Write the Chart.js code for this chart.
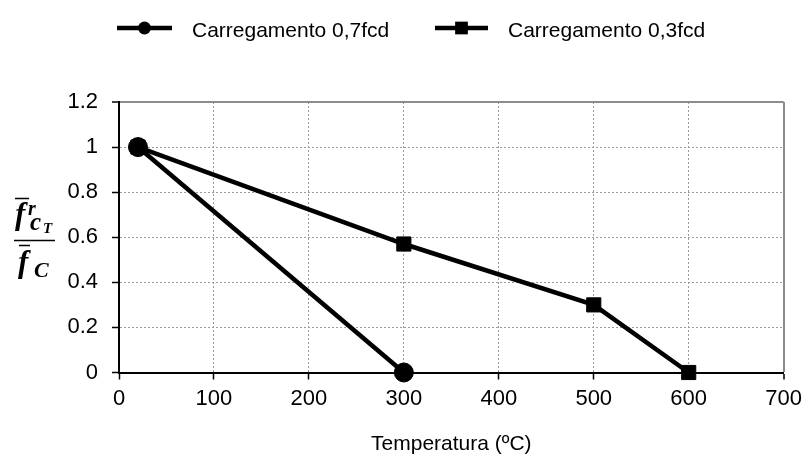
<!DOCTYPE html>
<html>
<head>
<meta charset="utf-8">
<script src="https://cdn.jsdelivr.net/npm/chart.js@4.4.0/dist/chart.umd.min.js"></script>
<style>
  html, body { margin: 0; padding: 0; background: #fff; }
  #wrap { width: 808px; height: 457px; }
</style>
</head>
<body>
<div id="wrap"><canvas id="grafico" width="808" height="457"></canvas></div>
<script>
// --- DADOS ---
const temps07 = [20, 300];
const vals07 = [1, 0];
const temps03 = [20, 300, 500, 600];
const vals03 = [1, 0.57, 0.3, 0];
const seriesLabels = ["Carregamento 0,7fcd", "Carregamento 0,3fcd"];
const xTicks = [0, 100, 200, 300, 400, 500, 600, 700];
const yTicks = [0, 0.2, 0.4, 0.6, 0.8, 1, 1.2];
const yTickLabels = ["0", "0.2", "0.4", "0.6", "0.8", "1", "1.2"];
const xTitle = "Temperatura (ºC)";

const SANS = "'Liberation Sans', Arial, sans-serif";
const SERIF = "'Liberation Serif', 'Times New Roman', serif";

// --- LEGENDA NO TOPO (linha + marcador) ---
const topLegend = {
  id: "topLegend",
  afterDraw(chart) {
    const ctx = chart.ctx;
    const items = [
      { x1: 117, x2: 172, text: 192 },
      { x1: 435, x2: 488, text: 508 },
    ];
    const y = 28;
    chart.data.datasets.forEach((ds, i) => {
      const it = items[i];
      ctx.save();
      ctx.strokeStyle = "#000";
      ctx.lineWidth = 4.5;
      ctx.beginPath();
      ctx.moveTo(it.x1, y);
      ctx.lineTo(it.x2, y);
      ctx.stroke();
      ctx.fillStyle = "#000";
      Chart.helpers.drawPoint(
        ctx,
        { pointStyle: ds.pointStyle, radius: ds.pointStyle === "rect" ? 9 : 6.5, rotation: 0, borderWidth: 0 },
        (it.x1 + it.x2) / 2,
        y
      );
      ctx.font = "21px " + SANS;
      ctx.textBaseline = "alphabetic";
      ctx.fillText(ds.label, it.text, 37);
      ctx.restore();
    });
  },
};

// --- TÍTULO DO EIXO Y (fração) ---
const yFraction = {
  id: "yFraction",
  afterDraw(chart) {
    const ctx = chart.ctx;
    ctx.save();
    ctx.fillStyle = "#000";
    ctx.strokeStyle = "#000";
    ctx.textBaseline = "alphabetic";
    // numerador
    ctx.font = "bold italic 31px " + SERIF;
    ctx.fillText("f", 15, 224);
    ctx.font = "bold italic 20px " + SERIF;
    ctx.fillText("r", 28, 215);
    ctx.font = "bold italic 25px " + SERIF;
    ctx.fillText("c", 30, 230);
    ctx.font = "bold italic 15px " + SERIF;
    ctx.fillText("T", 43, 233);
    // traços
    ctx.lineWidth = 1.6;
    ctx.beginPath();
    ctx.moveTo(15, 198.5); ctx.lineTo(29, 198.5);
    ctx.moveTo(14, 240.5); ctx.lineTo(55, 240.5);
    ctx.moveTo(19, 245.5); ctx.lineTo(30, 245.5);
    ctx.stroke();
    // denominador
    ctx.font = "bold italic 31px " + SERIF;
    ctx.fillText("f", 18, 272);
    ctx.font = "bold italic 22px " + SERIF;
    ctx.fillText("C", 34, 277);
    ctx.restore();
  },
};

const lastX = xTicks[xTicks.length - 1];
const lastY = yTicks[yTicks.length - 1];

new Chart(document.getElementById("grafico"), {
  type: "line",
  data: {
    datasets: [
      {
        label: seriesLabels[0],
        data: temps07.map((t, i) => ({ x: t, y: vals07[i] })),
        borderColor: "#000",
        backgroundColor: "#000",
        borderWidth: 4.5,
        pointStyle: "circle",
        pointRadius: 9.5,
        pointBorderWidth: 1,
        tension: 0,
        clip: false,
        order: 0,
      },
      {
        label: seriesLabels[1],
        data: temps03.map((t, i) => ({ x: t, y: vals03[i] })),
        borderColor: "#000",
        backgroundColor: "#000",
        borderWidth: 4.5,
        pointStyle: "rect",
        pointRadius: 10,
        pointBorderWidth: 1,
        tension: 0,
        clip: false,
        order: 1,
      },
    ],
  },
  options: {
    responsive: false,
    animation: false,
    layout: { padding: { left: 0, right: 22, top: 102, bottom: 0 } },
    plugins: { legend: { display: false }, tooltip: { enabled: false } },
    scales: {
      x: {
        type: "linear",
        min: 0,
        max: lastX,
        afterBuildTicks: (s) => { s.ticks = xTicks.map((v) => ({ value: v })); },
        afterFit: (s) => { s.height = 84.5; },
        ticks: {
          color: "#000",
          font: { family: SANS, size: 22 },
          padding: 6,
          maxRotation: 0,
          autoSkip: false,
          callback: (v) => String(v),
        },
        grid: {
          color: (c) => (c.tick && c.tick.value === lastX ? "#8c8c8c" : "#9a9a9a"),
          lineWidth: (c) => (c.tick && c.tick.value === lastX ? 2 : 1),
          tickColor: "#000",
          tickLength: 7,
          tickWidth: 1.5,
        },
        border: {
          color: "#000",
          width: 2,
          dash: (c) => (c.tick && c.tick.value === lastX ? [] : [2, 2]),
        },
        title: {
          display: true,
          text: xTitle,
          color: "#000",
          font: { family: SANS, size: 21 },
          padding: { top: 13, bottom: 0 },
        },
      },
      y: {
        type: "linear",
        min: 0,
        max: lastY,
        afterBuildTicks: (s) => { s.ticks = yTicks.map((v) => ({ value: v })); },
        afterFit: (s) => { s.width = 119; },
        ticks: {
          color: "#000",
          font: { family: SANS, size: 22 },
          padding: 14,
          autoSkip: false,
          callback: (v) => yTickLabels[yTicks.indexOf(v)] ?? String(v),
        },
        grid: {
          color: (c) => (c.tick && c.tick.value === lastY ? "#8c8c8c" : "#9a9a9a"),
          lineWidth: (c) => (c.tick && c.tick.value === lastY ? 2 : 1),
          tickColor: "#000",
          tickLength: 7,
          tickWidth: 1.5,
        },
        border: {
          color: "#000",
          width: 2,
          dash: (c) => (c.tick && c.tick.value === lastY ? [] : [2, 2]),
        },
      },
    },
  },
  plugins: [topLegend, yFraction],
});
</script>
</body>
</html>
